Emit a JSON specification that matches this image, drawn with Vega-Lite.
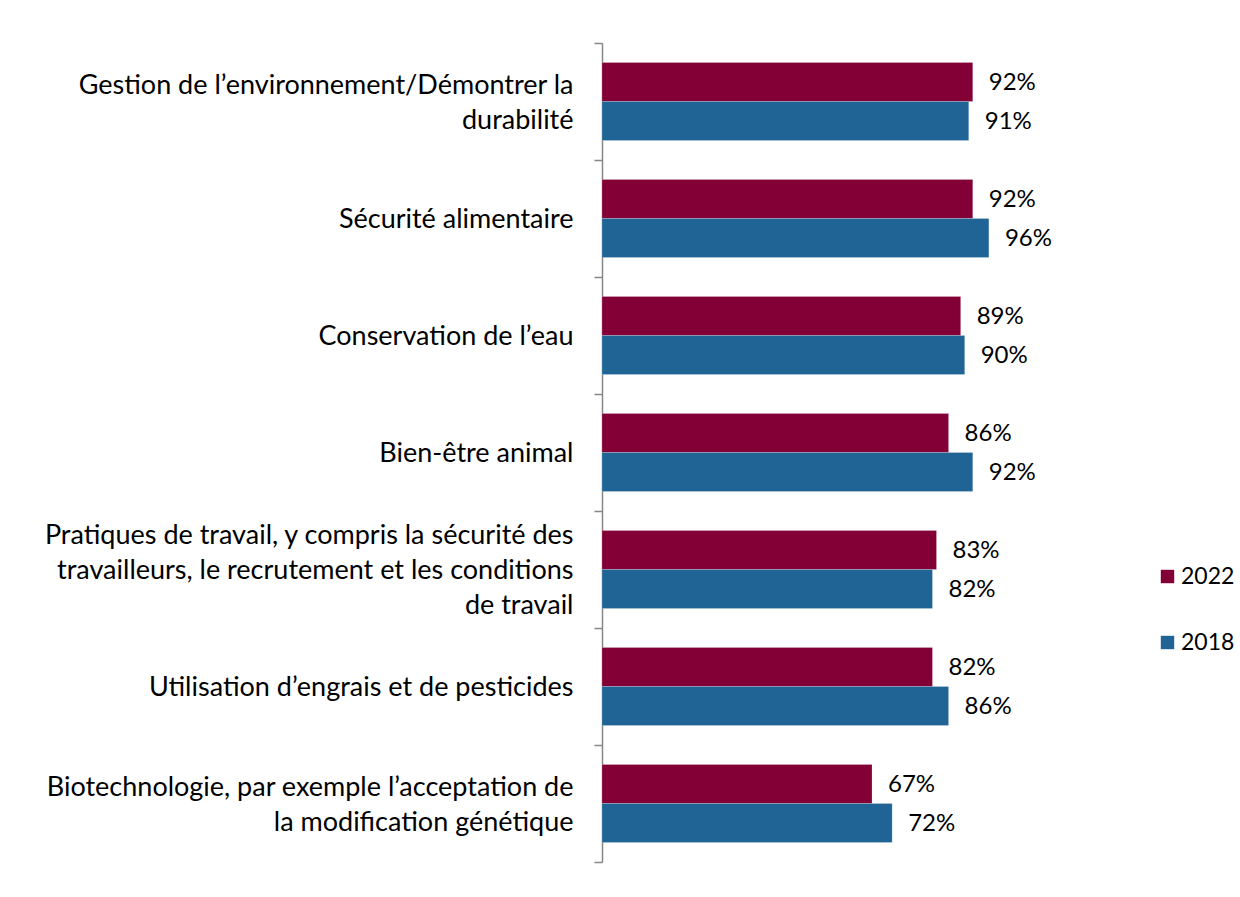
{
  "$schema": "https://vega.github.io/schema/vega-lite/v6.json",
  "autosize": "none",
  "width": 403,
  "height": 819,
  "padding": {"left": 602, "top": 43, "right": 235, "bottom": 35},
  "background": "white",
  "config": {"view": {"stroke": null}, "font": "Lato"},
  "data": {
    "values": [
      {"cat": "Gestion de l’environnement/Démontrer la|durabilité", "year": "2022", "value": 0.92},
      {"cat": "Gestion de l’environnement/Démontrer la|durabilité", "year": "2018", "value": 0.91},
      {"cat": "Sécurité alimentaire", "year": "2022", "value": 0.92},
      {"cat": "Sécurité alimentaire", "year": "2018", "value": 0.96},
      {"cat": "Conservation de l’eau", "year": "2022", "value": 0.89},
      {"cat": "Conservation de l’eau", "year": "2018", "value": 0.90},
      {"cat": "Bien-être animal", "year": "2022", "value": 0.86},
      {"cat": "Bien-être animal", "year": "2018", "value": 0.92},
      {"cat": "Pratiques de travail, y compris la sécurité des|travailleurs, le recrutement et les conditions|de travail", "year": "2022", "value": 0.83},
      {"cat": "Pratiques de travail, y compris la sécurité des|travailleurs, le recrutement et les conditions|de travail", "year": "2018", "value": 0.82},
      {"cat": "Utilisation d’engrais et de pesticides", "year": "2022", "value": 0.82},
      {"cat": "Utilisation d’engrais et de pesticides", "year": "2018", "value": 0.86},
      {"cat": "Biotechnologie, par exemple l’acceptation de|la modification génétique", "year": "2022", "value": 0.67},
      {"cat": "Biotechnologie, par exemple l’acceptation de|la modification génétique", "year": "2018", "value": 0.72}
    ]
  },
  "encoding": {
    "y": {
      "field": "cat", "type": "nominal", "sort": null, "title": null,
      "scale": {"paddingInner": 0, "paddingOuter": 0},
      "axis": {
        "labelExpr": "split(datum.label, '|')",
        "labelFontSize": 27, "labelColor": "#000000", "labelFont": "Lato",
        "labelLineHeight": 35, "labelPadding": 21, "labelLimit": 700,
        "labelOffset": {
          "condition": [
            {"test": "length(split(datum.value, '|')) == 3", "value": -34},
            {"test": "length(split(datum.value, '|')) == 2", "value": -16}
          ],
          "value": 1
        },
        "tickBand": "extent", "tickSize": 8, "tickColor": "#868686", "tickWidth": 1.5,
        "domainColor": "#868686", "domainWidth": 1.5
      }
    },
    "yOffset": {"field": "year", "type": "nominal", "sort": ["2022", "2018"], "scale": {"paddingOuter": 0.5, "paddingInner": 0}},
    "x": {"field": "value", "type": "quantitative", "scale": {"domain": [0, 1]}, "axis": null}
  },
  "layer": [
    {
      "mark": {"type": "bar", "stroke": "#ffffff", "strokeWidth": 0.5, "strokeOpacity": 0.4},
      "encoding": {
        "color": {
          "field": "year", "type": "nominal", "sort": ["2022", "2018"],
          "scale": {"domain": ["2022", "2018"], "range": ["#820036", "#1F6494"]},
          "legend": {
            "title": null, "orient": "none", "legendX": 554, "legendY": 522,
            "symbolType": "square", "symbolSize": 180, "symbolStrokeWidth": 0,
            "labelFontSize": 23, "labelFont": "Lato", "labelColor": "#000000",
            "rowPadding": 42, "labelOffset": 2
          }
        }
      }
    },
    {
      "mark": {"type": "text", "align": "left", "baseline": "middle", "dx": 16, "dy": 1, "fontSize": 24, "font": "Lato", "color": "#000000"},
      "encoding": {"text": {"field": "value", "type": "quantitative", "format": ".0%"}}
    }
  ]
}
